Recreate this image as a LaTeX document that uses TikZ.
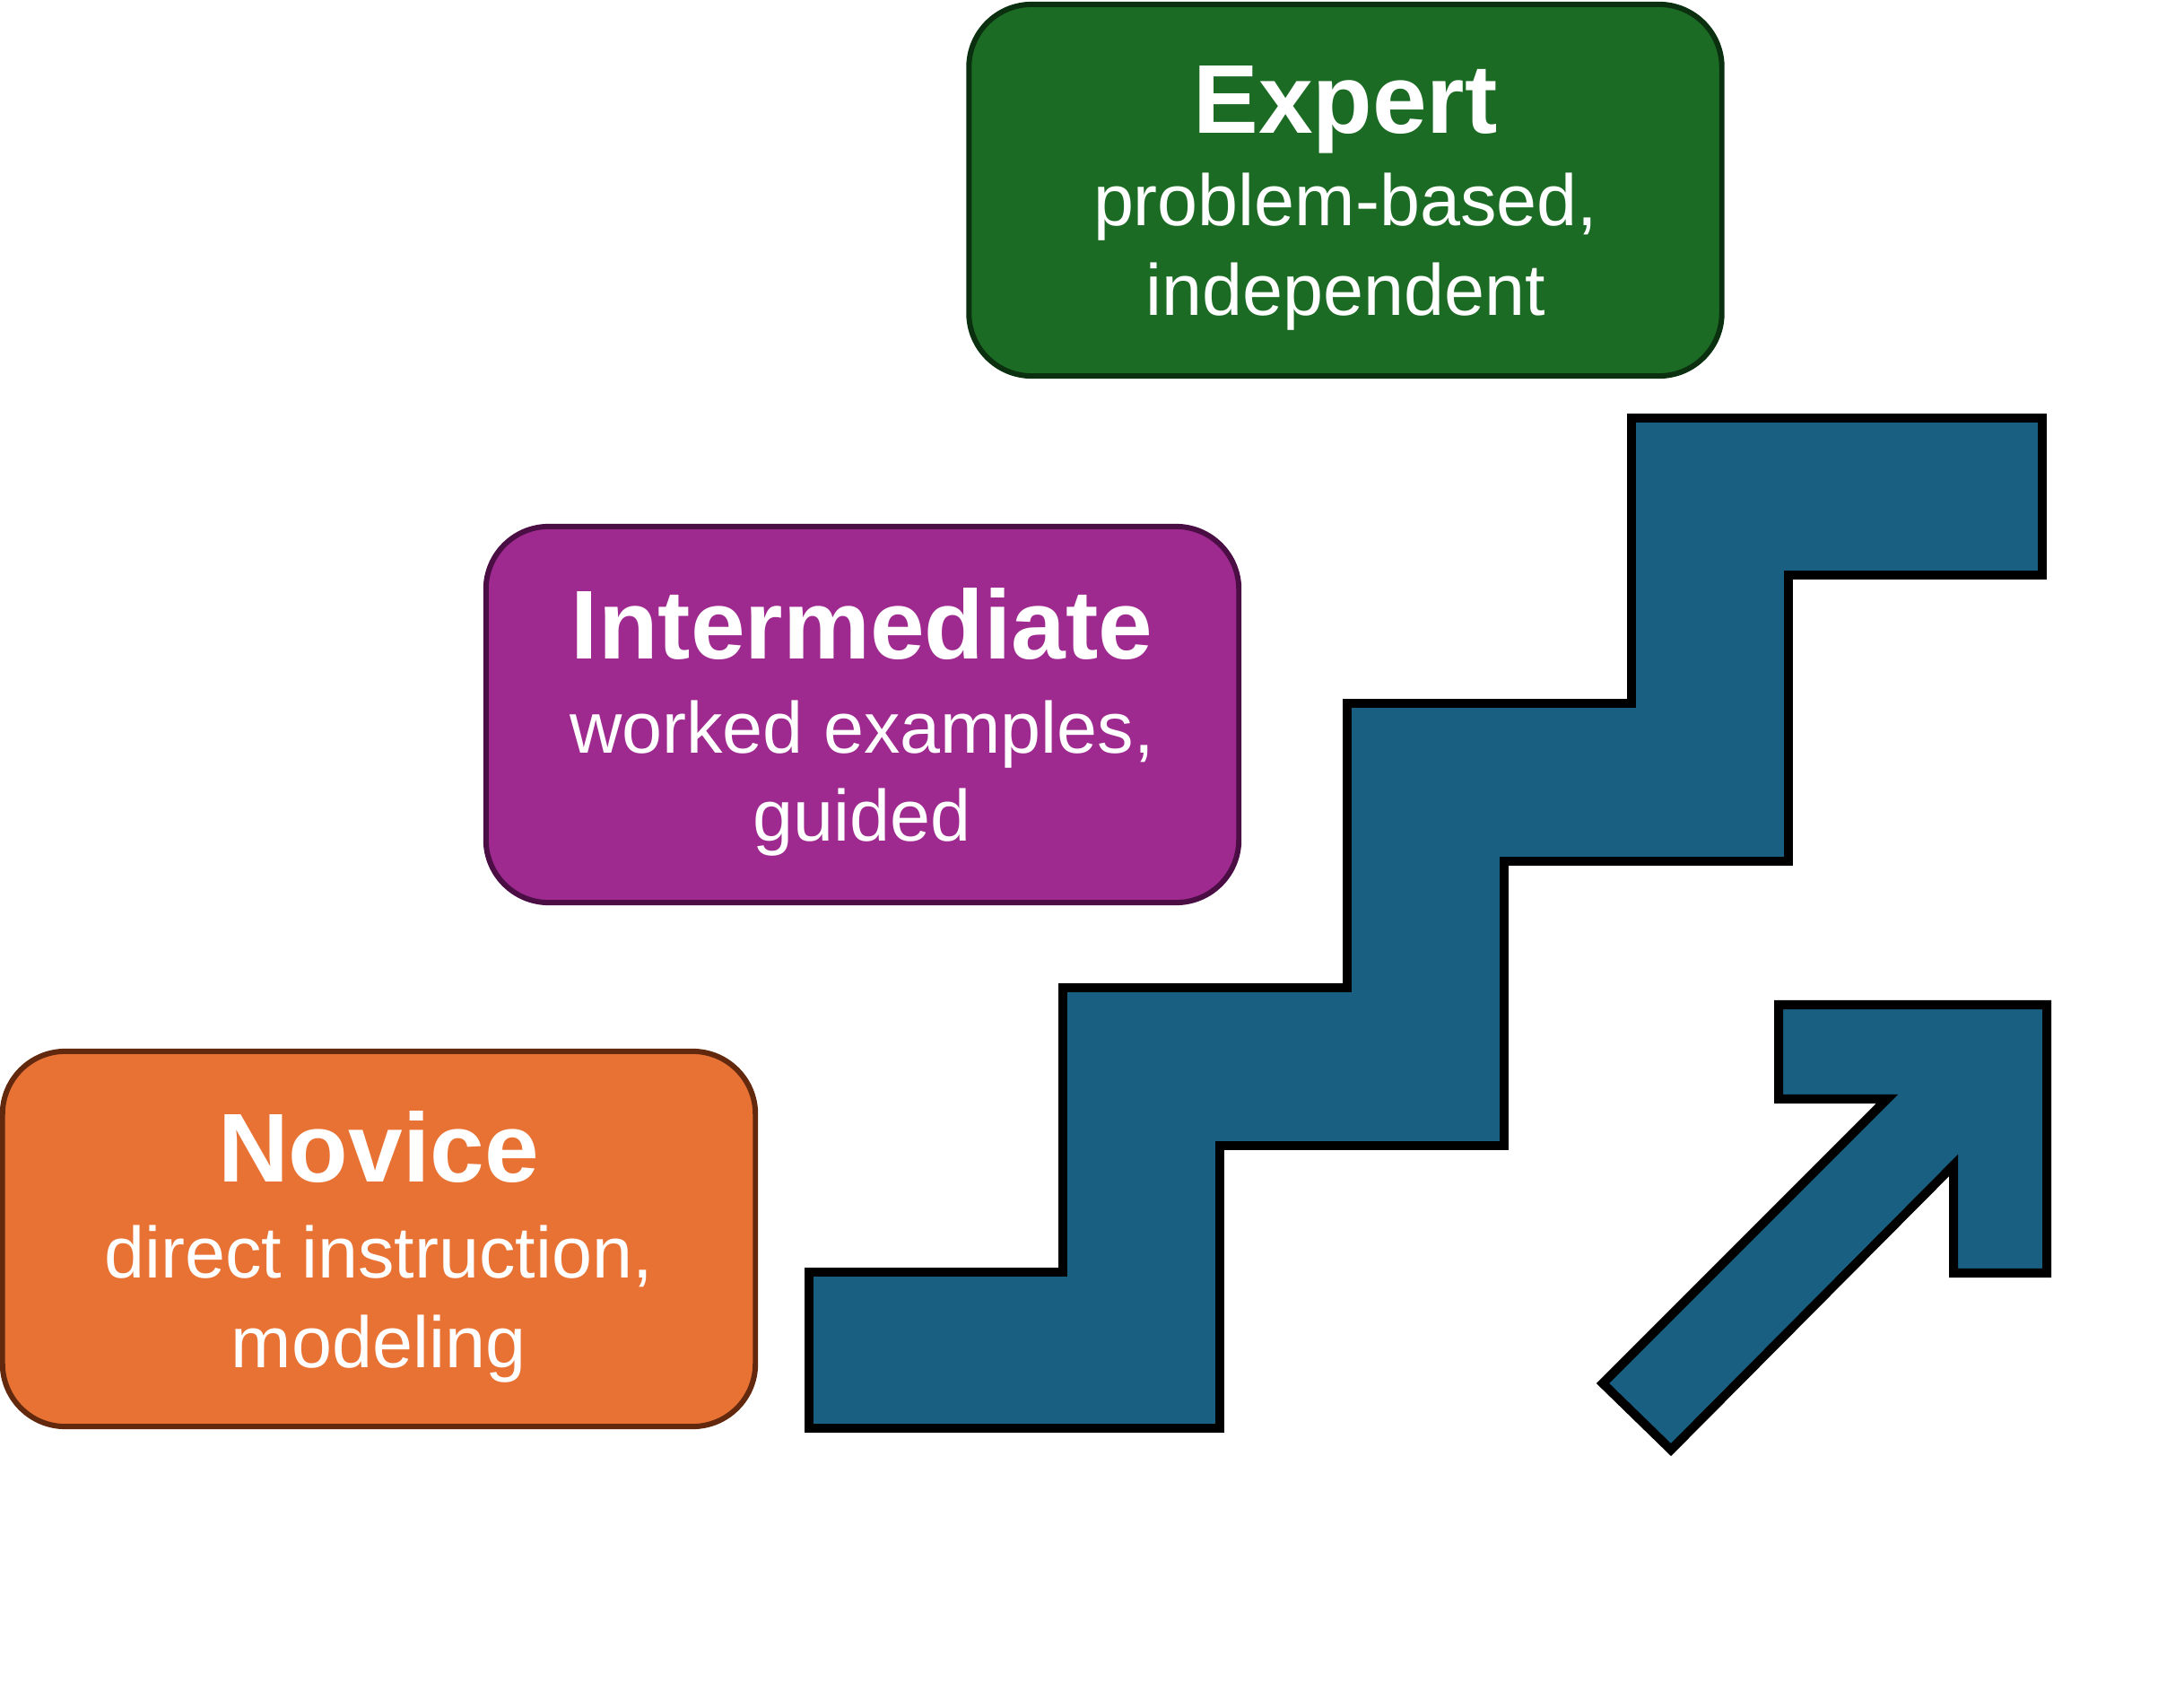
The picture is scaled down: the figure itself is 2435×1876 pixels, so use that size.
\documentclass[tikz,border=0pt]{standalone}
\usepackage{fontspec}
\setmainfont{Liberation Sans}
\definecolor{stair}{HTML}{185F82}
\definecolor{expertfill}{HTML}{1C6B25}
\definecolor{expertline}{HTML}{0B3010}
\definecolor{interfill}{HTML}{9E2A8F}
\definecolor{interline}{HTML}{4B0E44}
\definecolor{novicefill}{HTML}{E87234}
\definecolor{noviceline}{HTML}{62290F}
\begin{document}
\begin{tikzpicture}[x=0.01cm,y=-0.01cm,
  levelbox/.style={draw, line width=1.7pt, rounded corners=0.7cm, minimum width=8.39cm, inner sep=0pt},
  ttl/.style={anchor=base, text=white, inner sep=0pt, font=\fontsize{31}{31}\selectfont\bfseries},
  bodytext/.style={anchor=base, text=white, inner sep=0pt, font=\fontsize{23}{23}\selectfont},
  stairshape/.style={draw=black, fill=stair, line width=2.85pt, line join=miter}]
\useasboundingbox (0,0) rectangle (2435,1876);

% Expert
\node[levelbox, fill=expertfill, draw=expertline, minimum height=4.14cm] (expert) at (1500,212) {};
\node[ttl] (expertT) at (1500,149) {Expert};
\node[bodytext] (expertA) at (1500,252) {problem-based,};
\node[bodytext] (expertB) at (1500,352) {independent};

% Intermediate
\node[levelbox, fill=interfill, draw=interline, minimum height=4.19cm] (inter) at (961.5,796.5) {};
\node[ttl] (interT) at (961,735) {Intermediate};
\node[bodytext] (interA) at (961,840) {worked examples,};
\node[bodytext] (interB) at (961,937) {guided};

% Novice
\node[levelbox, fill=novicefill, draw=noviceline, minimum height=4.18cm] (novice) at (422.5,1381) {};
\node[ttl] (noviceT) at (422,1317) {Novice};
\node[bodytext] (noviceA) at (422,1424) {direct instruction,};
\node[bodytext] (noviceB) at (422,1524) {modeling};

% Staircase
\draw[stairshape] (902,1592) -- (902,1418) -- (1185,1418) -- (1185,1101) -- (1502,1101)
  -- (1502,784) -- (1819,784) -- (1819,466) -- (2277,466) -- (2277,641) -- (1994,641)
  -- (1994,960) -- (1677,960) -- (1677,1277) -- (1360,1277) -- (1360,1592) -- cycle;

% Arrow
\draw[stairshape] (1983,1120) -- (2282,1120) -- (2282,1419) -- (2178,1419) -- (2178,1299)
  -- (1863,1616) -- (1787,1542) -- (2104,1225) -- (1983,1225) -- cycle;
\end{tikzpicture}
\end{document}
